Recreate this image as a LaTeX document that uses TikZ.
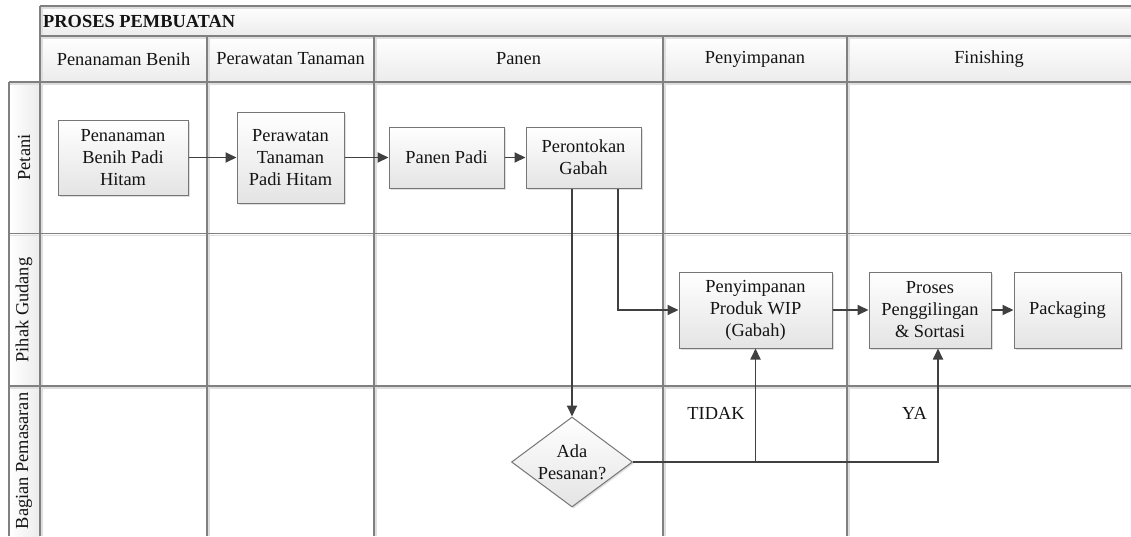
\documentclass[tikz,border=0pt]{standalone}
\usepackage{fontspec}
\setmainfont{Liberation Serif}
\usetikzlibrary{arrows.meta,shapes.geometric,shadows}
\definecolor{gridc}{RGB}{128,128,128}
\definecolor{gridshade}{RGB}{222,222,222}
\definecolor{arrc}{RGB}{64,64,64}
\definecolor{boxline}{RGB}{118,118,118}
\definecolor{boxbot}{RGB}{228,228,228}
\definecolor{headbot}{RGB}{236,236,236}
\begin{document}
\begin{tikzpicture}[x=1pt,y=-1pt,
  txt/.style={font=\fontsize{18.4}{22}\selectfont, text=black!92, inner sep=0pt, align=center},
  procbox/.style={txt, draw=boxline, line width=1pt, top color=white, bottom color=boxbot,
    drop shadow={shadow xshift=1.5pt, shadow yshift=-1.5pt, opacity=0.25}},
  decbox/.style={diamond, draw=boxline, line width=1pt, inner sep=0pt, top color=white, bottom color=boxbot,
    drop shadow={shadow xshift=1.5pt, shadow yshift=-1.5pt, opacity=0.25}},
  gline/.style={draw=gridc, line width=1.3pt},
  gshade/.style={draw=gridshade, line width=1.2pt},
  flow/.style={draw=arrc, line width=1.8pt, -{Triangle[length=11pt,width=10pt]}},
  plain/.style={draw=arrc, line width=1.8pt}]
\useasboundingbox (0,0) rectangle (1131,536);
\fill[white] (0,0) rectangle (1131,536);

% header bands and lane-label column
\fill[top color=white, bottom color=headbot] (40,6) rectangle (1131,36);
\fill[top color=white, bottom color=headbot] (40,36) rectangle (1131,82);
\fill[left color=white, right color=headbot] (9,82) rectangle (40,536);

% light shading beside the grid lines
\foreach \y in {6,36} \draw[gshade] (40,\y+2) -- (1131,\y+2);
\foreach \y in {82,233.5,386} \draw[gshade] (9,\y+2) -- (1131,\y+2);
\foreach \x in {207,374,663,847} \draw[gshade] (\x+2,36) -- (\x+2,536);
\draw[gshade] (42,6) -- (42,536);

% grid lines
\foreach \y in {6,36} \draw[gline] (40,\y) -- (1131,\y);
\foreach \y in {82,233.5,386} \draw[gline] (9,\y) -- (1131,\y);
\draw[gline] (40,6) -- (40,536);
\draw[gline] (9,82) -- (9,536);
\foreach \x in {207,374,663,847} \draw[gline] (\x,36) -- (\x,536);

% title and column headers
\node[txt, font={\fontsize{18.4}{22}\selectfont\bfseries}, anchor=west] (title) at (43,21) {PROSES PEMBUATAN};
\node[txt] (c1) at (123.5,59) {Penanaman Benih};
\node[txt] (c2) at (290.5,59) {Perawatan Tanaman};
\node[txt] (c3) at (518.5,59) {Panen};
\node[txt] (c4) at (755,59) {Penyimpanan};
\node[txt] (c5) at (989,59) {Finishing};

% lane labels
\node[txt, rotate=90] (l1) at (24,157.5) {Petani};
\node[txt, rotate=90] (l2) at (24,310) {Pihak Gudang};
\node[txt, rotate=90] (l3) at (24,461) {Bagian Pemasaran};

% process steps
\node[procbox, minimum width=130pt, minimum height=75pt] (b1) at (123,157.5) {Penanaman\\Benih Padi\\Hitam};
\node[procbox, minimum width=107pt, minimum height=91pt] (b2) at (290.5,157.5) {Perawatan\\Tanaman\\Padi Hitam};
\node[procbox, minimum width=115pt, minimum height=61pt] (b3) at (446.5,157.5) {Panen Padi};
\node[procbox, minimum width=115pt, minimum height=61pt] (b4) at (583.5,157.5) {Perontokan\\Gabah};
\node[procbox, minimum width=153pt, minimum height=76pt] (b5) at (755.5,310) {Penyimpanan\\Produk WIP\\(Gabah)};
\node[procbox, minimum width=122pt, minimum height=76pt] (b6) at (930,310) {Proses\\Penggilingan\\\& Sortasi};
\node[procbox, minimum width=107pt, minimum height=76pt] (b7) at (1067.5,310) {Packaging};

% decision
\node[decbox, minimum width=121pt, minimum height=90pt] (dec) at (572,462) {};
\node[txt] (dectext) at (dec.center) {Ada\\Pesanan?};

% branch labels
\node[txt] (tidak) at (716,413) {TIDAK};
\node[txt] (ya) at (914.5,413) {YA};

% connectors
\draw[flow] (b1.east) -- (b2.west);
\draw[flow] (b2.east) -- (b3.west);
\draw[flow] (b3.east) -- (b4.west);
\draw[flow] (dec.north |- b4.south) -- (dec.north);
\draw[flow] ([xshift=34.5pt]b4.south) |- (b5.west);
\draw[flow] (b5.east) -- (b6.west);
\draw[flow] (b6.east) -- (b7.west);
\coordinate (split) at (dec.east -| b5.south);
\draw[flow] (dec.east) -| ([xshift=8pt]b6.south);
\draw[flow] (split) -- (b5.south);
\end{tikzpicture}
\end{document}
